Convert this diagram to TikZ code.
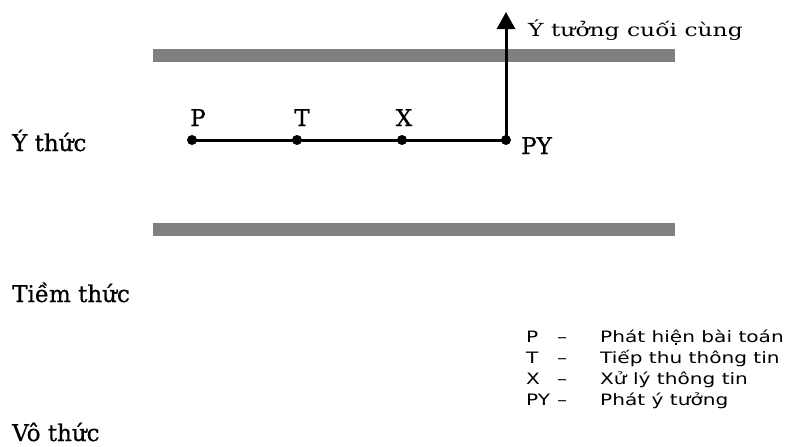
\documentclass[tikz,border=0pt]{standalone}
\usepackage{fontspec}
\setmainfont[FakeBold=0.6]{DejaVu Serif}
\newfontfamily\legendfont[FakeStretch=1.28]{DejaVu Sans}
\newfontfamily\notefont[FakeStretch=1.3]{DejaVu Serif}
\usetikzlibrary{arrows.meta}
\definecolor{bargray}{RGB}{128,128,128}
\tikzset{
  level/.style={draw=none, fill=bargray},
  stage/.style={circle, fill=black, inner sep=0pt, minimum size=10pt},
  flow/.style={line width=3pt},
  layer/.style={anchor=base west, inner sep=0pt, font=\fontsize{23}{25}\selectfont},
  tag/.style={anchor=base, inner sep=0pt, font=\fontsize{23}{25}\selectfont},
  legend/.style={anchor=base west, inner sep=0pt, font=\legendfont\fontsize{15.7}{17}\selectfont},
}
\begin{document}
\begin{tikzpicture}[x=1pt, y=-1pt]
\useasboundingbox (0,0) rectangle (798,447);
\fill[white] (0,0) rectangle (798,447);

% boundaries between levels
\fill[level] (153,49) rectangle (675,62);
\fill[level] (153,223) rectangle (675,236);

% level names
\node[layer] (yt) at (12,151) {Ý thức};
\node[layer] (tt) at (12,302) {Tiềm thức};
\node[layer] (vt) at (12,441) {Vô thức};

% process stages
\node[stage] (p) at (192,140) {};
\node[stage] (t) at (297,140) {};
\node[stage] (x) at (402,140) {};
\node[stage] (py) at (506,140) {};
\coordinate (top) at (506,12);

\node[tag] (lp) at (198,126) {P};
\node[tag] (lt) at (302,126) {T};
\node[tag] (lx) at (404,126) {X};
\node[tag, anchor=base west] (lpy) at (521,154) {PY};

\draw[flow] (p.center) -- (t.center) -- (x.center) -- (py.center);
\draw[flow, -{Triangle[width=18pt, length=17pt]}] (py.center) -- (top);

\node[anchor=base west, inner sep=0pt, font=\notefont\fontsize{18}{20}\selectfont] (idea) at (528,36) {Ý tưởng cuối cùng};

% legend
\node[legend] (k1) at (526,342) {P};
\node[legend] (k2) at (526,363) {T};
\node[legend] (k3) at (526,384) {X};
\node[legend] (k4) at (526,405) {PY};
\foreach \y in {342,363,384,405} \node[legend] at (557,\y) {–};
\node[legend] (d1) at (600,342) {Phát hiện bài toán};
\node[legend] (d2) at (600,363) {Tiếp thu thông tin};
\node[legend] (d3) at (600,384) {Xử lý thông tin};
\node[legend] (d4) at (600,405) {Phát ý tưởng};
\end{tikzpicture}
\end{document}
